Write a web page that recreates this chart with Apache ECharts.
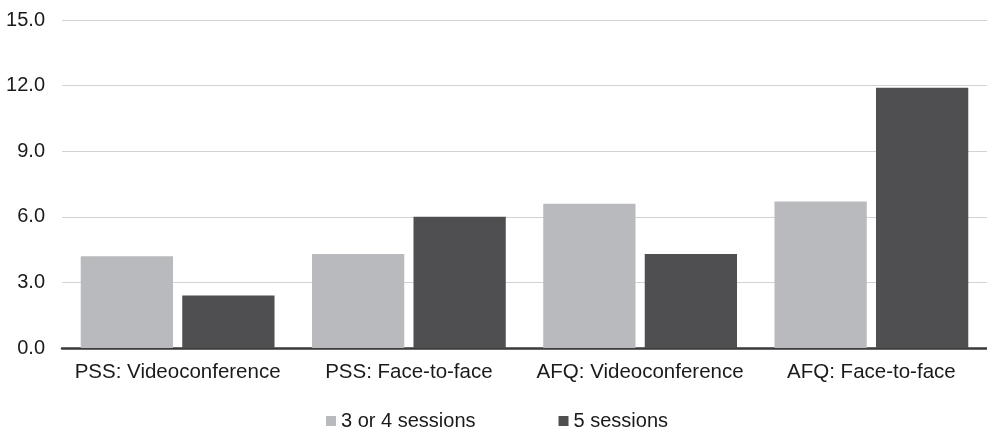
<!DOCTYPE html>
<html>
<head>
<meta charset="utf-8">
<script src="https://cdn.jsdelivr.net/npm/echarts@6/dist/echarts.min.js"></script>
<style>
  html, body { margin: 0; padding: 0; background: #ffffff; }
  #chart { width: 987px; height: 430px; }
</style>
</head>
<body>
<div id="chart"></div>
<script>
// Categories and values for the two session groups
const categories = ['PSS: Videoconference', 'PSS: Face-to-face', 'AFQ: Videoconference', 'AFQ: Face-to-face'];
const seriesNames = ['3 or 4 sessions', '5 sessions'];
const threeOrFour = [4.2, 4.3, 6.6, 6.7];
const fiveSessions = [2.4, 6.0, 4.3, 11.9];
const yMin = 0;
const yMax = 15;
const yStep = 3;

const FONT = '"Liberation Sans", Arial, sans-serif';
const LIGHT = '#b9babd';
const DARK = '#4f4f52';

const chart = echarts.init(document.getElementById('chart'), null, { renderer: 'canvas' });

chart.setOption({
  animation: false,
  backgroundColor: '#ffffff',
  textStyle: { fontFamily: FONT },
  grid: { left: 62, top: 20, width: 929, bottom: 82, containLabel: false },
  legend: {
    data: seriesNames,
    left: 321,
    top: 406,
    itemWidth: 10,
    itemHeight: 10,
    itemGap: 83,
    icon: 'rect',
    textStyle: { fontFamily: FONT, fontSize: 20, color: '#1a1a1a' }
  },
  xAxis: {
    type: 'category',
    data: categories,
    axisTick: { show: false },
    axisLine: { show: true, lineStyle: { color: '#3a3a3a', width: 2.5 } },
    axisLabel: { fontFamily: FONT, fontSize: 20.5, color: '#1a1a1a', margin: 14, interval: 0 }
  },
  yAxis: {
    type: 'value',
    min: yMin,
    max: yMax,
    interval: yStep,
    axisLine: { show: false },
    axisTick: { show: false },
    splitLine: { lineStyle: { color: '#d2d2d2', width: 1.2 } },
    axisLabel: {
      fontFamily: FONT, fontSize: 20, color: '#1a1a1a', margin: 17,
      formatter: v => v.toFixed(1)
    }
  },
  series: [
    {
      name: seriesNames[0],
      type: 'bar',
      data: threeOrFour,
      itemStyle: { color: LIGHT },
      barGap: '10%',
      barCategoryGap: '16.2%'
    },
    {
      name: seriesNames[1],
      type: 'bar',
      data: fiveSessions,
      itemStyle: { color: DARK },
      barGap: '10%',
      barCategoryGap: '16.2%'
    }
  ]
});
</script>
</body>
</html>
